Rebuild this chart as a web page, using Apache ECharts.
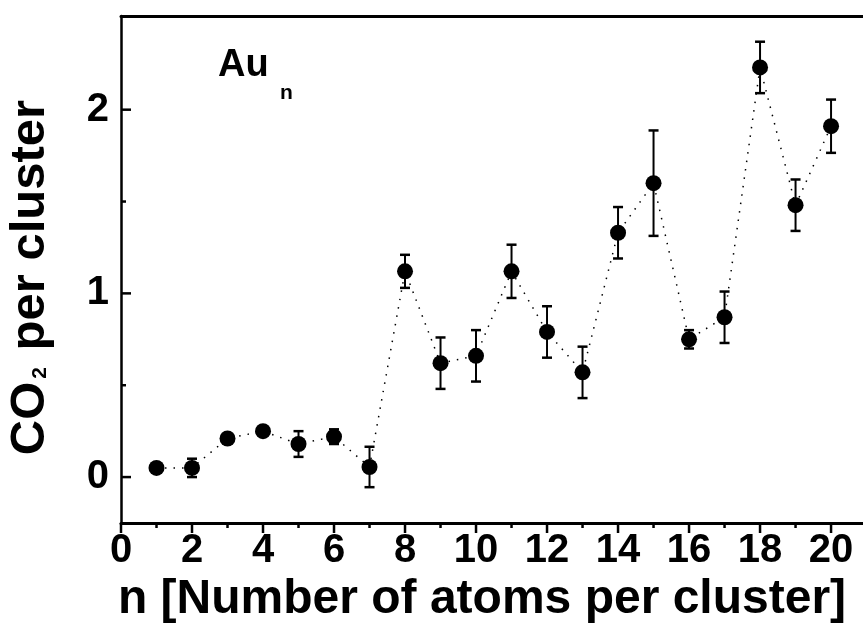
<!DOCTYPE html>
<html>
<head>
<meta charset="utf-8">
<script src="https://cdn.jsdelivr.net/npm/echarts@6/dist/echarts.min.js"></script>
<style>
html,body{margin:0;padding:0;background:#fff;}
#chart{width:863px;height:632px;}
</style>
</head>
<body>
<div id="chart"></div>
<script>
// ---- data ----
const nValues = [1, 2, 3, 4, 5, 6, 7, 8, 9, 10, 11, 12, 13, 14, 15, 16, 17, 18, 19, 20];
const co2Values = [0.05, 0.05, 0.21, 0.25, 0.18, 0.22, 0.055, 1.12, 0.62, 0.66, 1.12, 0.79, 0.57, 1.33, 1.60, 0.75, 0.87, 2.23, 1.48, 1.91];
const co2Errors = [0, 0.05, 0, 0, 0.07, 0.04, 0.11, 0.09, 0.14, 0.14, 0.145, 0.14, 0.14, 0.14, 0.287, 0.05, 0.14, 0.14, 0.14, 0.145];
const xTickValues = [0, 1, 2, 3, 4, 5, 6, 7, 8, 9, 10, 11, 12, 13, 14, 15, 16, 17, 18, 19, 20];
const yTickValues = [0, 0.5, 1, 1.5, 2];
const xTitle = 'n [Number of atoms per cluster]';
const yTitleMain = 'CO';
const yTitleSub = '2';
const yTitleRest = ' per cluster';
const labelMain = 'Au';
const labelSub = 'n';

const xMin = 0, xMax = 20.9, yMin = -0.25, yMax = 2.51;
const FONT = '"Liberation Sans", Arial, sans-serif';

const chart = echarts.init(document.getElementById('chart'), null, {renderer: 'canvas'});

const pointData = nValues.map((n, i) => [n, co2Values[i]]);
const errData = nValues.map((n, i) => [n, co2Values[i] - co2Errors[i], co2Values[i] + co2Errors[i]]).filter((d, i) => co2Errors[i] > 0);
const tickData = xTickValues.map(v => [v, yMin, 0, v % 2 === 0 ? 1 : 0])
  .concat(yTickValues.map(v => [xMin, v, 1, Number.isInteger(v) ? 1 : 0]));

const isInt = v => Math.abs(v - Math.round(v)) < 1e-6;

chart.setOption({
  animation: false,
  backgroundColor: '#fff',
  grid: {left: 121, right: 0, top: 16, bottom: 109, containLabel: false, outerBoundsMode: 'none'},
  xAxis: [{
    type: 'value', min: xMin, max: xMax, interval: 2, position: 'bottom',
    axisLine: {show: true, onZero: false, lineStyle: {color: '#000', width: 3}},
    axisTick: {show: false},
    splitLine: {show: false},
    axisLabel: {
      color: '#000', fontFamily: FONT, fontWeight: 'bold', fontSize: 40, margin: 8,
      showMaxLabel: false,
      formatter: v => (isInt(v) && Math.round(v) % 2 === 0 && v <= 20) ? String(Math.round(v)) : ''
    },
    name: xTitle, nameLocation: 'middle', nameGap: 52,
    nameTextStyle: {color: '#000', fontFamily: FONT, fontWeight: 'bold', fontSize: 48, padding: [0, 20, 0, 0]}
  }, {
    type: 'value', min: xMin, max: xMax, position: 'top',
    axisLine: {show: true, onZero: false, lineStyle: {color: '#000', width: 3}},
    axisTick: {show: false}, axisLabel: {show: false}, splitLine: {show: false}
  }],
  yAxis: [{
    type: 'value', min: yMin, max: yMax, interval: 0.25,
    axisLine: {show: true, onZero: false, lineStyle: {color: '#000', width: 2.5}},
    axisTick: {show: false},
    splitLine: {show: false},
    axisLabel: {
      color: '#000', fontFamily: FONT, fontWeight: 'bold', fontSize: 40, margin: 12,
      formatter: v => (isInt(v) && v >= 0 && v <= 2) ? String(Math.round(v)) : ''
    },
    name: '{a|' + yTitleMain + '}{s|' + yTitleSub + '}{a|' + yTitleRest + '}',
    nameLocation: 'middle', nameGap: 66, nameRotate: 90,
    nameTextStyle: {
      color: '#000', fontFamily: FONT, fontWeight: 'bold', fontSize: 49,
      padding: [0, 16, 0, 0],
      rich: {
        a: {color: '#000', fontFamily: FONT, fontWeight: 'bold', fontSize: 49, verticalAlign: 'bottom'},
        s: {color: '#000', fontFamily: FONT, fontWeight: 'bold', fontSize: 21, verticalAlign: 'bottom', padding: [0, 3, 4, 3]}
      }
    }
  }],
  graphic: [
    {type: 'text', left: 218, top: 47, style: {text: labelMain, fill: '#000', font: 'bold 38px ' + FONT}},
    {type: 'text', left: 280, top: 83, style: {text: labelSub, fill: '#000', font: 'bold 21px ' + FONT}}
  ],
  series: [
    {
      type: 'custom', name: 'ticks', xAxisIndex: 0, yAxisIndex: 0, clip: false, silent: true, z: 1,
      data: tickData,
      renderItem: function (params, api) {
        const p = api.coord([api.value(0), api.value(1)]);
        const kind = api.value(2), major = api.value(3);
        const len = major ? 10 : 5;
        const shape = kind === 0
          ? {x1: p[0], y1: p[1], x2: p[0], y2: p[1] + len}
          : {x1: p[0], y1: p[1], x2: p[0] + len, y2: p[1]};
        return {type: 'line', shape: shape, style: {stroke: '#000', lineWidth: 2.5}};
      }
    },
    {
      type: 'line', name: 'CO2', xAxisIndex: 0, yAxisIndex: 0, data: pointData,
      symbol: 'circle', symbolSize: 16, z: 4,
      itemStyle: {color: '#000'},
      lineStyle: {color: '#000', width: 1.5, type: [1.5, 7]}
    },
    {
      type: 'custom', name: 'err', xAxisIndex: 0, yAxisIndex: 0, silent: true, z: 3,
      data: errData,
      renderItem: function (params, api) {
        const x = api.value(0);
        const lo = api.coord([x, api.value(1)]);
        const hi = api.coord([x, api.value(2)]);
        const hw = 5;
        const st = {stroke: '#000', lineWidth: 2};
        return {type: 'group', children: [
          {type: 'line', shape: {x1: lo[0], y1: lo[1], x2: hi[0], y2: hi[1]}, style: st},
          {type: 'line', shape: {x1: hi[0] - hw, y1: hi[1], x2: hi[0] + hw, y2: hi[1]}, style: {stroke: '#000', lineWidth: 2.5}},
          {type: 'line', shape: {x1: lo[0] - hw, y1: lo[1], x2: lo[0] + hw, y2: lo[1]}, style: {stroke: '#000', lineWidth: 2.5}}
        ]};
      }
    }
  ]
});
</script>
</body>
</html>
